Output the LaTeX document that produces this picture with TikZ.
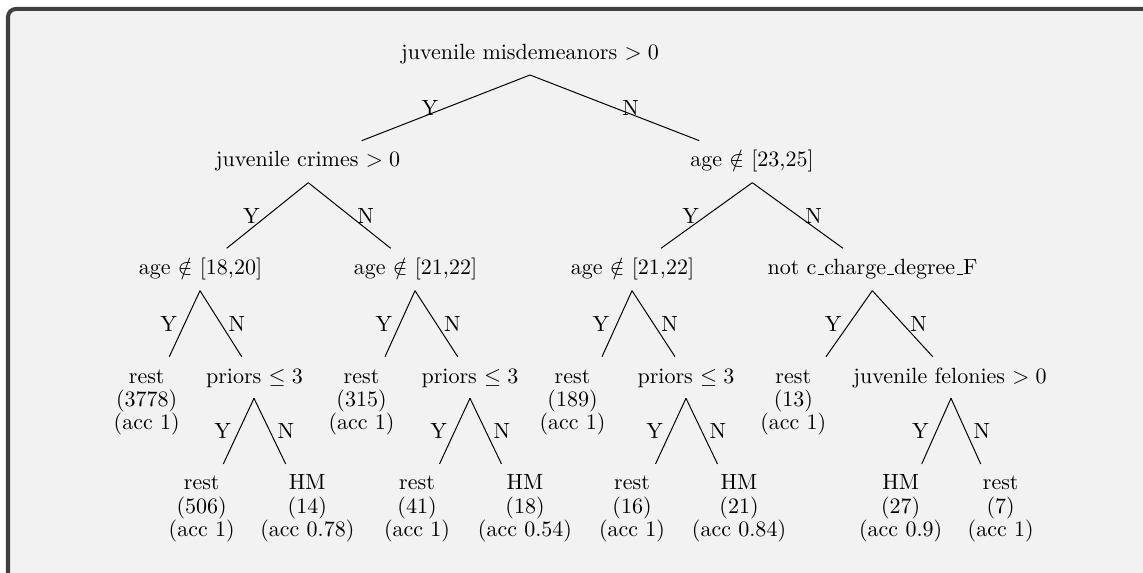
\documentclass[tikz,border=0pt]{standalone}
\usepackage{amssymb}
\newcommand{\leafbox}[3]{{\renewcommand{\arraystretch}{0.85}\begin{tabular}[t]{@{}c@{}}#1\\(#2)\\(acc #3)\end{tabular}}}
% low-line underscore as a thin rule on the baseline
\newcommand{\usc}{\kern.06em\vbox{\hrule width.3em}}
\definecolor{panelbg}{HTML}{F2F2F2}
\definecolor{panelrule}{HTML}{404040}
\begin{document}
\begin{tikzpicture}[x=0.4545pt,y=-0.4545pt,
  tn/.style={anchor=base,inner sep=0pt},
  edge/.style={line width=0.45pt},
  yl/.style={midway,left},
  nl/.style={midway,right}]
\useasboundingbox (0,0) rectangle (1143,573);
\begin{scope}
\clip (0,0) rectangle (1143,573);
\fill[white] (-20,-20) rectangle (1200,640);
% framed panel, running off the right and bottom edges
\fill[panelbg] (8,9) rectangle (1200,640);
\draw[panelrule,line width=1.82pt,rounded corners=3.6pt]
  (8,640) -- (8,9) -- (1200,9);
\end{scope}

% split nodes
\node[tn] (root) at (530,60) {juvenile misdemeanors $>0$};
\node[tn] (jc)   at (308,167) {juvenile crimes $>0$};
\node[tn] (a2325) at (752,167) {age $\notin$ [23,25]};
\node[tn] (a1820) at (200.5,275) {age $\notin$ [18,20]};
\node[tn] (a2122l) at (415.5,275) {age $\notin$ [21,22]};
\node[tn] (a2122m) at (632.5,275) {age $\notin$ [21,22]};
\node[tn] (ncd) at (872.5,275) {not c\usc charge\usc degree\usc F};
\node[tn] (p1) at (254.5,383.3) {priors $\leq 3$};
\node[tn] (p2) at (470,383.3) {priors $\leq 3$};
\node[tn] (p3) at (686,383.3) {priors $\leq 3$};
\node[tn] (jf) at (950,383.3) {juvenile felonies $>0$};

% leaves
\node[tn] (l1) at (146.7,383.3) {\leafbox{rest}{3778}{1}};
\node[tn] (l2) at (361.5,383.3) {\leafbox{rest}{315}{1}};
\node[tn] (l3) at (572.5,383.3) {\leafbox{rest}{189}{1}};
\node[tn] (l4) at (793.3,383.3) {\leafbox{rest}{13}{1}};
\node[tn] (l5) at (201.7,490) {\leafbox{rest}{506}{1}};
\node[tn] (l6) at (307.3,490) {\leafbox{HM}{14}{0.78}};
\node[tn] (l7) at (417,490) {\leafbox{rest}{41}{1}};
\node[tn] (l8) at (525,490) {\leafbox{HM}{18}{0.54}};
\node[tn] (l9) at (632,490) {\leafbox{rest}{16}{1}};
\node[tn] (l10) at (739,490) {\leafbox{HM}{21}{0.84}};
\node[tn] (l11) at (900.7,490) {\leafbox{HM}{27}{0.9}};
\node[tn] (l12) at (1000.7,490) {\leafbox{rest}{7}{1}};

% edge end points: apex under each split, feet above each child
\coordinate (rootA) at (530,75);
\coordinate (rootY) at (361.7,140.7);
\coordinate (rootN) at (699.3,140.7);
\coordinate (jcA) at (308.3,182.7);
\coordinate (jcY) at (226.7,248.3);
\coordinate (jcN) at (390.7,248.3);
\coordinate (a2325A) at (752.3,182.7);
\coordinate (a2325Y) at (661,248.3);
\coordinate (a2325N) at (843,248.3);
\coordinate (a1820A) at (200,290.7);
\coordinate (a1820Y) at (169.3,356.7);
\coordinate (a1820N) at (241.7,356.7);
\coordinate (a2122lA) at (415,290.7);
\coordinate (a2122lY) at (385,356.7);
\coordinate (a2122lN) at (457.7,356.7);
\coordinate (a2122mA) at (632,290.7);
\coordinate (a2122mY) at (602,356.7);
\coordinate (a2122mN) at (675,356.7);
\coordinate (ncdA) at (872.3,290.7);
\coordinate (ncdY) at (826,356.7);
\coordinate (ncdN) at (932.7,356.7);
\coordinate (p1A) at (254,398.3);
\coordinate (p1Y) at (223.3,464);
\coordinate (p1N) at (285.7,464);
\coordinate (p2A) at (470,398.3);
\coordinate (p2Y) at (439.5,464);
\coordinate (p2N) at (501.5,464);
\coordinate (p3A) at (686,398.3);
\coordinate (p3Y) at (655.5,464);
\coordinate (p3N) at (717.5,464);
\coordinate (jfA) at (951,398.3);
\coordinate (jfY) at (921.7,464);
\coordinate (jfN) at (980.7,464);

% edges with Y / N labels
\foreach \s in {root,jc,a2325,a1820,a2122l,a2122m,ncd,p1,p2,p3,jf}{
  \draw[edge] (\s A) -- node[yl]{Y} (\s Y);
  \draw[edge] (\s A) -- node[nl]{N} (\s N);
}
\end{tikzpicture}
\end{document}
